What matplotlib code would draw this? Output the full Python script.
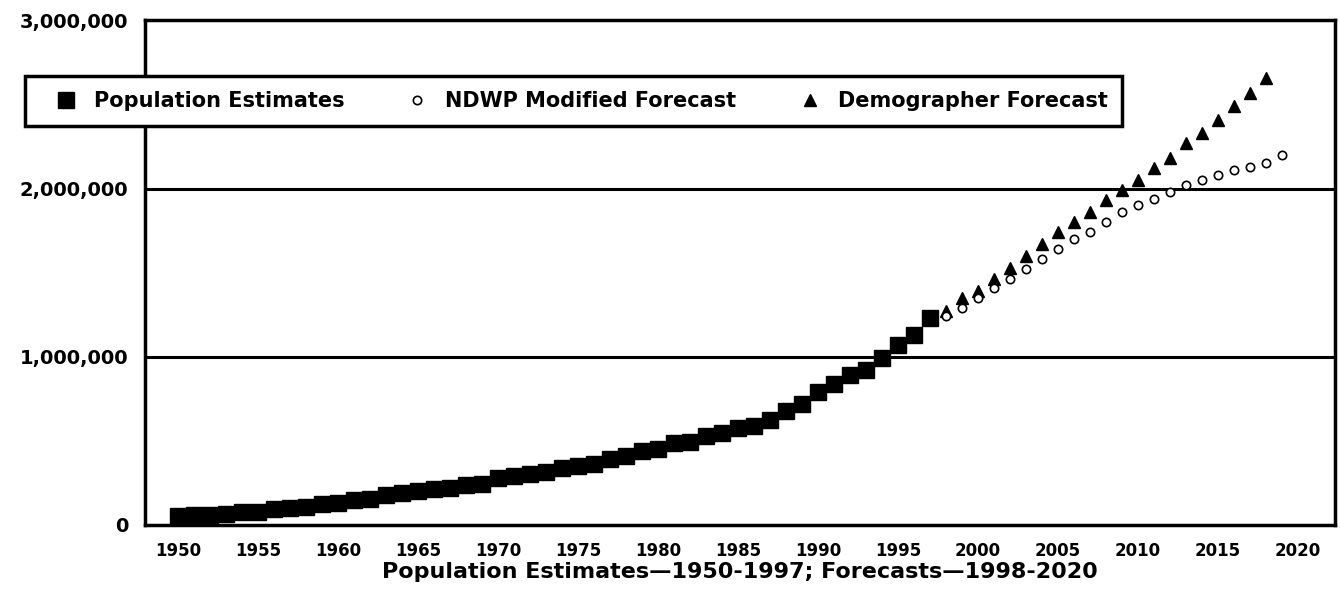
import matplotlib
matplotlib.use('Agg')
import matplotlib.pyplot as plt
from matplotlib.ticker import FuncFormatter

# Population estimates 1950-1997
est_years = list(range(1950, 1998))
est_pop = [55000, 58000, 60000, 63000, 75000, 80000, 95000, 100000, 105000, 125000,
           130000, 148000, 155000, 180000, 190000, 200000, 212000, 218000, 235000, 245000,
           280000, 290000, 305000, 315000, 340000, 350000, 365000, 395000, 410000, 440000,
           450000, 485000, 495000, 530000, 545000, 575000, 590000, 625000, 680000, 720000,
           790000, 840000, 890000, 920000, 990000, 1070000, 1130000, 1230000]

# NDWP modified forecast
ndwp_years = list(range(1998, 2020))
ndwp_pop = [1240000, 1290000, 1350000, 1410000, 1460000, 1520000, 1580000, 1640000,
            1700000, 1740000, 1800000, 1860000, 1900000, 1940000, 1980000, 2020000,
            2050000, 2080000, 2110000, 2130000, 2150000, 2200000]

# Demographer forecast
demo_years = list(range(1998, 2019))
demo_pop = [1270000, 1350000, 1390000, 1460000, 1530000, 1600000, 1670000, 1740000,
            1800000, 1860000, 1930000, 1990000, 2050000, 2120000, 2180000, 2270000,
            2330000, 2410000, 2490000, 2570000, 2655000]

xticks = list(range(1950, 2021, 5))
yticks = [0, 1000000, 2000000, 3000000]
grid_levels = [1000000, 2000000]

fig = plt.figure(figsize=(13.4, 5.91), dpi=100)
ax = fig.add_axes([0.1082, 0.1117, 0.888, 0.854])

for lvl in grid_levels:
    ax.axhline(lvl, color='black', lw=2.2, zorder=1)

ax.plot(est_years, est_pop, 's', color='black', markersize=11, label='Population Estimates', zorder=3)
ax.plot(ndwp_years, ndwp_pop, 'o', mfc='white', mec='black', mew=1.2, markersize=6,
        label='NDWP Modified Forecast', zorder=4)
ax.plot(demo_years, demo_pop, '^', color='black', markersize=9, label='Demographer Forecast', zorder=3)

ax.set_xlim(1947.94, 2022.3)
ax.set_ylim(0, 3000000)
ax.set_xticks(xticks)
ax.set_yticks(yticks)
ax.yaxis.set_major_formatter(FuncFormatter(lambda v, p: f"{int(v):,}"))
ax.tick_params(length=0, pad=12)
ax.tick_params(axis='x', labelsize=12)
ax.tick_params(axis='y', labelsize=14)
for lab in ax.get_xticklabels() + ax.get_yticklabels():
    lab.set_fontweight('bold')

for s in ax.spines.values():
    s.set_linewidth(2.5)
    s.set_color('black')

ax.set_xlabel('Population Estimates\u20141950-1997; Forecasts\u20141998-2020',
              fontsize=16, fontweight='bold', labelpad=2)

leg = ax.legend(loc='center', ncol=3, mode='expand',
                bbox_to_anchor=(0.0187, 1 - 129 / 591, 0.8187, 56 / 591),
                bbox_transform=fig.transFigure,
                prop={'size': 15, 'weight': 'bold'},
                frameon=True, fancybox=False, framealpha=1, edgecolor='black',
                borderpad=0.7, handlelength=2.5, handletextpad=0.1, borderaxespad=0)
leg.get_frame().set_linewidth(2.5)
leg.set_zorder(5)

fig.savefig('out.png', dpi=100)
